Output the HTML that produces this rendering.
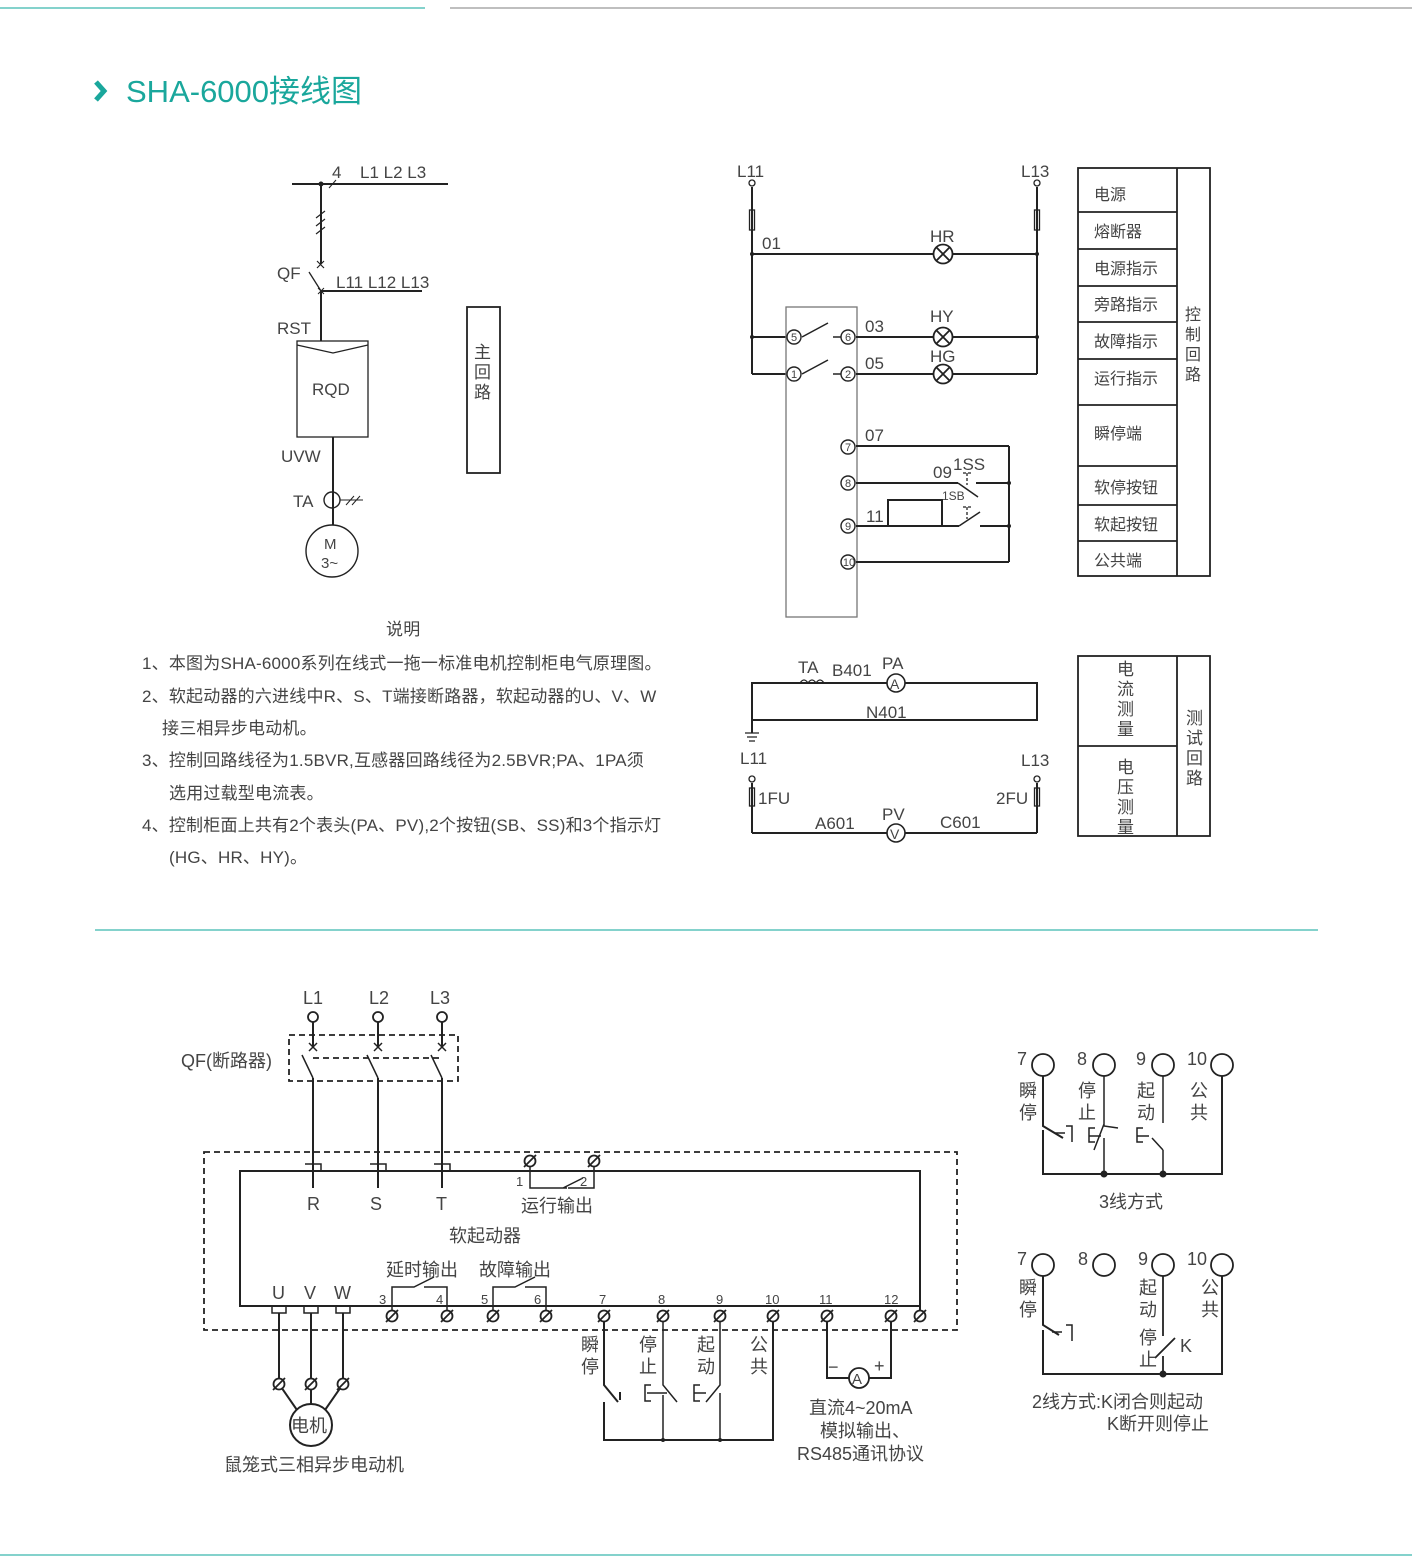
<!DOCTYPE html>
<html><head><meta charset="utf-8"><style>
html,body{margin:0;padding:0;background:#fff;width:1412px;height:1565px;overflow:hidden}
svg{display:block}
text{font-family:"Liberation Sans","Noto Sans CJK SC",sans-serif;fill:#444}
</style></head><body>
<svg width="1412" height="1565" viewBox="0 0 1412 1565" xmlns="http://www.w3.org/2000/svg">
<defs>
<g id="term"><circle r="5.5" fill="#fff" stroke="#222" stroke-width="1.8"/><line x1="-6" y1="6" x2="6" y2="-6" stroke="#222" stroke-width="1.8"/></g>
<g id="lamp"><circle r="9.5" fill="#fff" stroke="#222" stroke-width="1.8"/><line x1="-6.7" y1="-6.7" x2="6.7" y2="6.7" stroke="#222" stroke-width="1.8"/><line x1="-6.7" y1="6.7" x2="6.7" y2="-6.7" stroke="#222" stroke-width="1.8"/></g>
</defs>
<line x1="0" y1="8" x2="425" y2="8" stroke="#5cc3bb" stroke-width="1.5"/>
<line x1="450" y1="8" x2="1412" y2="8" stroke="#aaa" stroke-width="1.5"/>
<path d="M96 82 L104 91 L96 100" fill="none" stroke="#1aa79c" stroke-width="5"/>
<text x="126" y="102" font-size="31" style="fill:#1aa79c">SHA-6000接线图</text>

<g stroke="#222" stroke-width="2" fill="none">
<line x1="292" y1="184" x2="448" y2="184"/>
<line x1="321" y1="184" x2="321" y2="264"/>
<line x1="329" y1="188" x2="336" y2="180" stroke-width="1"/>
<path d="M316 218l9-7M316 226l9-7M316 234l9-7" stroke-width="1.2"/>
<path d="M317 261l7 7M324 261l-7 7" stroke-width="1.2"/>
<line x1="309" y1="272" x2="321" y2="291" stroke-width="1.3"/>
<path d="M318 288l6 6M324 288l-6 6" stroke-width="1"/>
<line x1="321" y1="291" x2="422" y2="291"/>
<line x1="321" y1="291" x2="321" y2="341"/>
<rect x="297" y="341" width="71" height="96" stroke-width="1.3"/>
<path d="M297 345 L333 353 L368 345" stroke-width="1.2"/>
<line x1="333" y1="437" x2="333" y2="525"/>
<circle cx="332" cy="500" r="8" stroke-width="1.4"/>
<path d="M340 500h23M346 505l8-9M352 505l8-9" stroke-width="1"/>
<circle cx="332" cy="551" r="26" stroke-width="1.4"/>
<rect x="467" y="307" width="33" height="166" stroke-width="1.8"/>
</g>
<circle cx="321" cy="184" r="2.5" fill="#222"/>
<g font-size="17">
<text x="332" y="178">4</text><text x="360" y="178">L1 L2 L3</text>
<text x="277" y="279">QF</text><text x="336" y="288">L11 L12 L13</text>
<text x="277" y="334">RST</text><text x="312" y="395">RQD</text>
<text x="281" y="462">UVW</text><text x="293" y="507">TA</text>
<text x="324" y="549" font-size="15">M</text><text x="321" y="568" font-size="15">3~</text>
<text x="474" y="358">主</text><text x="474" y="378">回</text><text x="474" y="398">路</text>
</g>

<g stroke="#222" stroke-width="2" fill="none">
<line x1="752" y1="187" x2="752" y2="374"/>
<line x1="1037" y1="187" x2="1037" y2="374"/>
<rect x="749.5" y="210" width="5" height="20" stroke-width="1.3"/>
<rect x="1034.5" y="210" width="5" height="20" stroke-width="1.3"/>
<line x1="752" y1="254" x2="1037" y2="254"/>
<line x1="752" y1="337" x2="787" y2="337"/><line x1="752" y1="374" x2="787" y2="374"/>
<rect x="786" y="307" width="71" height="310" stroke="#777" stroke-width="1.3"/>
<line x1="802" y1="337" x2="828" y2="323" stroke-width="1.5"/><line x1="833" y1="337" x2="841" y2="337" stroke-width="1.5"/>
<line x1="802" y1="374" x2="828" y2="360" stroke-width="1.5"/><line x1="833" y1="374" x2="841" y2="374" stroke-width="1.5"/>
<line x1="856" y1="337" x2="1037" y2="337"/><line x1="856" y1="374" x2="1037" y2="374"/>
<line x1="856" y1="446" x2="1009" y2="446"/><line x1="1009" y1="446" x2="1009" y2="562"/>
<line x1="856" y1="483" x2="958" y2="483"/><line x1="958" y1="483" x2="978" y2="497" stroke-width="1.5"/><line x1="976" y1="483" x2="1009" y2="483"/>
<line x1="856" y1="526" x2="959" y2="526"/><rect x="888" y="500" width="54" height="26"/>
<line x1="959" y1="526" x2="980" y2="512" stroke-width="1.5"/><line x1="980" y1="526" x2="1009" y2="526"/>
<line x1="856" y1="562" x2="1009" y2="562"/>
<path d="M963 473h8M967 473v12M963 507h8M967 507v12" stroke-width="1.3" stroke-dasharray="3,2"/>
<rect x="1078" y="168" width="132" height="408" stroke-width="1.8"/>
<line x1="1177" y1="168" x2="1177" y2="576" stroke-width="1.8"/>
<path d="M1078 212h99M1078 249h99M1078 286h99M1078 322h99M1078 359h99M1078 405h99M1078 466h99M1078 505h99M1078 541h99" stroke-width="1.8"/>
</g>
<circle cx="752" cy="183" r="3" fill="#fff" stroke="#222" stroke-width="1.3"/>
<circle cx="1037" cy="183" r="3" fill="#fff" stroke="#222" stroke-width="1.3"/>
<g fill="#222"><circle cx="752" cy="254" r="2"/><circle cx="1037" cy="254" r="2"/><circle cx="752" cy="337" r="2"/><circle cx="1037" cy="337" r="2"/><circle cx="1009" cy="483" r="2"/><circle cx="1009" cy="526" r="2"/></g>
<use href="#lamp" x="943" y="254"/><use href="#lamp" x="943" y="337"/><use href="#lamp" x="943" y="374"/>
<g fill="#fff" stroke="#222" stroke-width="1.4">
<circle cx="794" cy="337" r="7"/><circle cx="794" cy="374" r="7"/><circle cx="848" cy="337" r="7"/><circle cx="848" cy="374" r="7"/>
<circle cx="848" cy="447" r="7"/><circle cx="848" cy="483" r="7"/><circle cx="848" cy="526" r="7"/><circle cx="848" cy="562" r="7"/>
</g>
<g font-size="11" text-anchor="middle">
<text x="794" y="341">5</text><text x="794" y="378">1</text><text x="848" y="341">6</text><text x="848" y="378">2</text>
<text x="848" y="451">7</text><text x="848" y="487">8</text><text x="848" y="530">9</text><text x="849" y="566">10</text>
</g>
<g font-size="17">
<text x="737" y="177">L11</text><text x="1021" y="177">L13</text>
<text x="762" y="249">01</text><text x="930" y="242">HR</text>
<text x="865" y="332">03</text><text x="930" y="322">HY</text>
<text x="865" y="369">05</text><text x="930" y="362">HG</text>
<text x="865" y="441">07</text><text x="933" y="478">09</text><text x="953" y="470">1SS</text>
<text x="942" y="500" font-size="12">1SB</text><text x="866" y="522">11</text>
</g>
<g font-size="16">
<text x="1094" y="200">电源</text><text x="1094" y="237">熔断器</text><text x="1094" y="274">电源指示</text>
<text x="1094" y="310">旁路指示</text><text x="1094" y="347">故障指示</text><text x="1094" y="384">运行指示</text>
<text x="1094" y="439">瞬停端</text><text x="1094" y="493">软停按钮</text><text x="1094" y="530">软起按钮</text><text x="1094" y="566">公共端</text>
<text x="1185" y="320">控</text><text x="1185" y="340">制</text><text x="1185" y="360">回</text><text x="1185" y="380">路</text>
</g>

<g stroke="#222" stroke-width="2" fill="none">
<path d="M752 683H1037V720H752Z"/>
<line x1="752" y1="720" x2="752" y2="733"/>
<path d="M745 733h14M747 737h10M749 741h6" stroke-width="1.3"/>
<path d="M800 683q4-6 8 0q4-6 8 0q4-6 8 0" stroke-width="1.3"/>
<line x1="752" y1="783" x2="752" y2="833"/><line x1="1037" y1="783" x2="1037" y2="833"/>
<line x1="752" y1="833" x2="1037" y2="833"/>
<rect x="749.5" y="788" width="5" height="18" stroke-width="1.3"/><rect x="1034.5" y="788" width="5" height="18" stroke-width="1.3"/>
<rect x="1078" y="656" width="132" height="180" stroke-width="1.8"/>
<line x1="1177" y1="656" x2="1177" y2="836" stroke-width="1.8"/><line x1="1078" y1="746" x2="1177" y2="746" stroke-width="1.8"/>
</g>
<circle cx="752" cy="779" r="3" fill="#fff" stroke="#222" stroke-width="1.3"/>
<circle cx="1037" cy="779" r="3" fill="#fff" stroke="#222" stroke-width="1.3"/>
<circle cx="896" cy="683" r="9" fill="#fff" stroke="#222" stroke-width="1.6"/>
<circle cx="896" cy="833" r="9" fill="#fff" stroke="#222" stroke-width="1.6"/>
<g font-size="17">
<text x="890" y="689" font-size="14">A</text><text x="890" y="839" font-size="14">V</text>
<text x="798" y="673">TA</text><text x="832" y="676">B401</text><text x="882" y="669">PA</text>
<text x="866" y="718">N401</text>
<text x="740" y="764">L11</text><text x="1021" y="766">L13</text>
<text x="758" y="804">1FU</text><text x="996" y="804">2FU</text>
<text x="815" y="829">A601</text><text x="882" y="820">PV</text><text x="940" y="828">C601</text>
<text x="1117" y="675">电</text><text x="1117" y="695">流</text><text x="1117" y="715">测</text><text x="1117" y="735">量</text>
<text x="1117" y="773">电</text><text x="1117" y="793">压</text><text x="1117" y="813">测</text><text x="1117" y="833">量</text>
<text x="1186" y="724">测</text><text x="1186" y="744">试</text><text x="1186" y="764">回</text><text x="1186" y="784">路</text>
</g>

<g font-size="17" letter-spacing="0.2">
<text x="386" y="635">说明</text>
<text x="142" y="669">1、本图为SHA-6000系列在线式一拖一标准电机控制柜电气原理图。</text>
<text x="142" y="702">2、软起动器的六进线中R、S、T端接断路器，软起动器的U、V、W</text>
<text x="162" y="734">接三相异步电动机。</text>
<text x="142" y="766">3、控制回路线径为1.5BVR,互感器回路线径为2.5BVR;PA、1PA须</text>
<text x="169" y="799">选用过载型电流表。</text>
<text x="142" y="831">4、控制柜面上共有2个表头(PA、PV),2个按钮(SB、SS)和3个指示灯</text>
<text x="169" y="863">(HG、HR、HY)。</text>
</g>
<line x1="95" y1="930" x2="1318" y2="930" stroke="#5cc3bb" stroke-width="1.5"/>

<g stroke="#222" stroke-width="2" fill="none">
<g stroke-dasharray="6,4" stroke-width="1.8">
<rect x="289" y="1035" width="169" height="46"/><line x1="313" y1="1058" x2="442" y2="1058"/>
<rect x="204" y="1152" width="753" height="178"/>
</g>
<path d="M313 1022V1047M378 1022V1047M442 1022V1047"/>
<path d="M309 1043l8 8M317 1043l-8 8M374 1043l8 8M382 1043l-8 8M438 1043l8 8M446 1043l-8 8" stroke-width="1.5"/>
<path d="M302 1055L313 1078M367 1055L378 1078M431 1055L442 1078" stroke-width="1.5"/>
<path d="M313 1078V1171M378 1078V1171M442 1078V1171"/>
<rect x="240" y="1171" width="680" height="135"/>
<path d="M313 1171V1188M378 1171V1188M442 1171V1188"/>
<path d="M305 1164h16v7M370 1164h16v7M434 1164h16v7" stroke-width="1.5"/>
<path d="M530 1167V1188H567M563 1188l20-10M568 1188H594V1167" stroke-width="1.5"/>
<path d="M392 1310V1287H414l20-10M424 1287H447V1310" stroke-width="1.5"/>
<path d="M493 1310V1287H515l20-10M525 1287H546V1310" stroke-width="1.5"/>
<path d="M920 1306V1310" />
<path d="M272 1306h14v7h-14zM304 1306h14v7h-14zM336 1306h14v7h-14z" stroke-width="1.5"/>
<path d="M279 1313V1384M311 1313V1384M343 1313V1384"/>
<path d="M279 1384L297 1410M311 1384V1404M343 1384L325 1410"/>
<circle cx="311" cy="1425" r="21"/>
<path d="M604 1322V1385L618 1402M620 1392V1400M604 1402V1440H773V1322"/>
<path d="M663 1322V1385L677 1402M663 1395V1440M651 1385h-6v16h6M647 1393h20" stroke-width="1.5"/>
<path d="M720 1322V1385L706 1402M720 1393V1440M700 1385h-6v16h6M694 1393h12" stroke-width="1.5"/>
<path d="M827 1322V1378H849M869 1378H891V1322"/>
<path d="M1043 1076V1126L1063 1138M1043 1130V1174H1222V1076"/>
<path d="M1055 1133h10M1066 1126h6v16" stroke-width="1.5"/>
<path d="M1104 1076V1126L1118 1128M1104 1124L1094 1150M1104 1138V1174M1095 1128h-6v14h6M1089 1136h12" stroke-width="1.5"/>
<path d="M1163 1076V1123M1163 1150L1152 1138M1163 1150V1174M1143 1128h-6v14h6M1137 1136h12" stroke-width="1.5"/>
<path d="M1043 1276V1325L1059 1335M1043 1330V1374H1222V1276"/>
<path d="M1052 1332h10M1066 1325h6v16" stroke-width="1.5"/>
<path d="M1163 1276V1336M1155 1358L1175 1338M1163 1356V1374" stroke-width="1.8"/>
</g>
<g fill="#222"><circle cx="1104" cy="1174" r="3.5"/><circle cx="1163" cy="1174" r="3.5"/><circle cx="1163" cy="1374" r="3.5"/><circle cx="663" cy="1440" r="2"/><circle cx="720" cy="1440" r="2"/></g>
<g fill="#fff" stroke="#222" stroke-width="1.8">
<circle cx="313" cy="1017" r="5"/><circle cx="378" cy="1017" r="5"/><circle cx="442" cy="1017" r="5"/>
<circle cx="1043" cy="1065" r="11"/><circle cx="1104" cy="1065" r="11"/><circle cx="1163" cy="1065" r="11"/><circle cx="1222" cy="1065" r="11"/>
<circle cx="1043" cy="1265" r="11"/><circle cx="1104" cy="1265" r="11"/><circle cx="1163" cy="1265" r="11"/><circle cx="1222" cy="1265" r="11"/>
<circle cx="859" cy="1378" r="10"/>
</g>
<use href="#term" x="530" y="1161"/><use href="#term" x="594" y="1161"/>
<use href="#term" x="392" y="1316"/><use href="#term" x="447" y="1316"/><use href="#term" x="493" y="1316"/><use href="#term" x="546" y="1316"/>
<use href="#term" x="604" y="1316"/><use href="#term" x="663" y="1316"/><use href="#term" x="720" y="1316"/><use href="#term" x="773" y="1316"/>
<use href="#term" x="827" y="1316"/><use href="#term" x="891" y="1316"/><use href="#term" x="920" y="1316"/>
<use href="#term" x="279" y="1384"/><use href="#term" x="311" y="1384"/><use href="#term" x="343" y="1384"/>
<g font-size="18">
<text x="303" y="1004">L1</text><text x="369" y="1004">L2</text><text x="430" y="1004">L3</text>
<text x="181" y="1067">QF(断路器)</text>
<text x="307" y="1210">R</text><text x="370" y="1210">S</text><text x="436" y="1210">T</text>
<text x="521" y="1212">运行输出</text><text x="449" y="1242">软起动器</text>
<text x="386" y="1276">延时输出</text><text x="479" y="1276">故障输出</text>
<text x="272" y="1299">U</text><text x="304" y="1299">V</text><text x="334" y="1299">W</text>
<text x="291" y="1432">电机</text><text x="224" y="1471">鼠笼式三相异步电动机</text>
<text x="581" y="1351">瞬</text><text x="581" y="1373">停</text>
<text x="639" y="1351">停</text><text x="639" y="1373">止</text>
<text x="697" y="1351">起</text><text x="697" y="1373">动</text>
<text x="750" y="1351">公</text><text x="750" y="1373">共</text>
<text x="852" y="1384" font-size="15">A</text><text x="828" y="1373">−</text><text x="874" y="1372">+</text>
<text x="809" y="1414">直流4~20mA</text><text x="820" y="1437">模拟输出、</text><text x="797" y="1460">RS485通讯协议</text>
<text x="1017" y="1065">7</text><text x="1077" y="1065">8</text><text x="1136" y="1065">9</text><text x="1187" y="1065">10</text>
<text x="1019" y="1097">瞬</text><text x="1019" y="1119">停</text><text x="1078" y="1097">停</text><text x="1078" y="1119">止</text>
<text x="1137" y="1097">起</text><text x="1137" y="1119">动</text><text x="1190" y="1097">公</text><text x="1190" y="1119">共</text>
<text x="1099" y="1208">3线方式</text>
<text x="1017" y="1265">7</text><text x="1078" y="1265">8</text><text x="1138" y="1265">9</text><text x="1187" y="1265">10</text>
<text x="1019" y="1294">瞬</text><text x="1019" y="1316">停</text><text x="1139" y="1294">起</text><text x="1139" y="1316">动</text>
<text x="1139" y="1344">停</text><text x="1139" y="1366">止</text><text x="1180" y="1352">K</text>
<text x="1201" y="1294">公</text><text x="1201" y="1316">共</text>
<text x="1032" y="1408">2线方式:K闭合则起动</text><text x="1107" y="1430">K断开则停止</text>
</g>
<g font-size="13">
<text x="516" y="1186">1</text><text x="580" y="1186">2</text>
<text x="379" y="1304">3</text><text x="436" y="1304">4</text><text x="481" y="1304">5</text><text x="534" y="1304">6</text>
<text x="599" y="1304">7</text><text x="658" y="1304">8</text><text x="716" y="1304">9</text><text x="765" y="1304">10</text>
<text x="819" y="1304">11</text><text x="884" y="1304">12</text>
</g>
<line x1="0" y1="1555" x2="1412" y2="1555" stroke="#5cc3bb" stroke-width="1.5"/>
</svg>
</body></html>
